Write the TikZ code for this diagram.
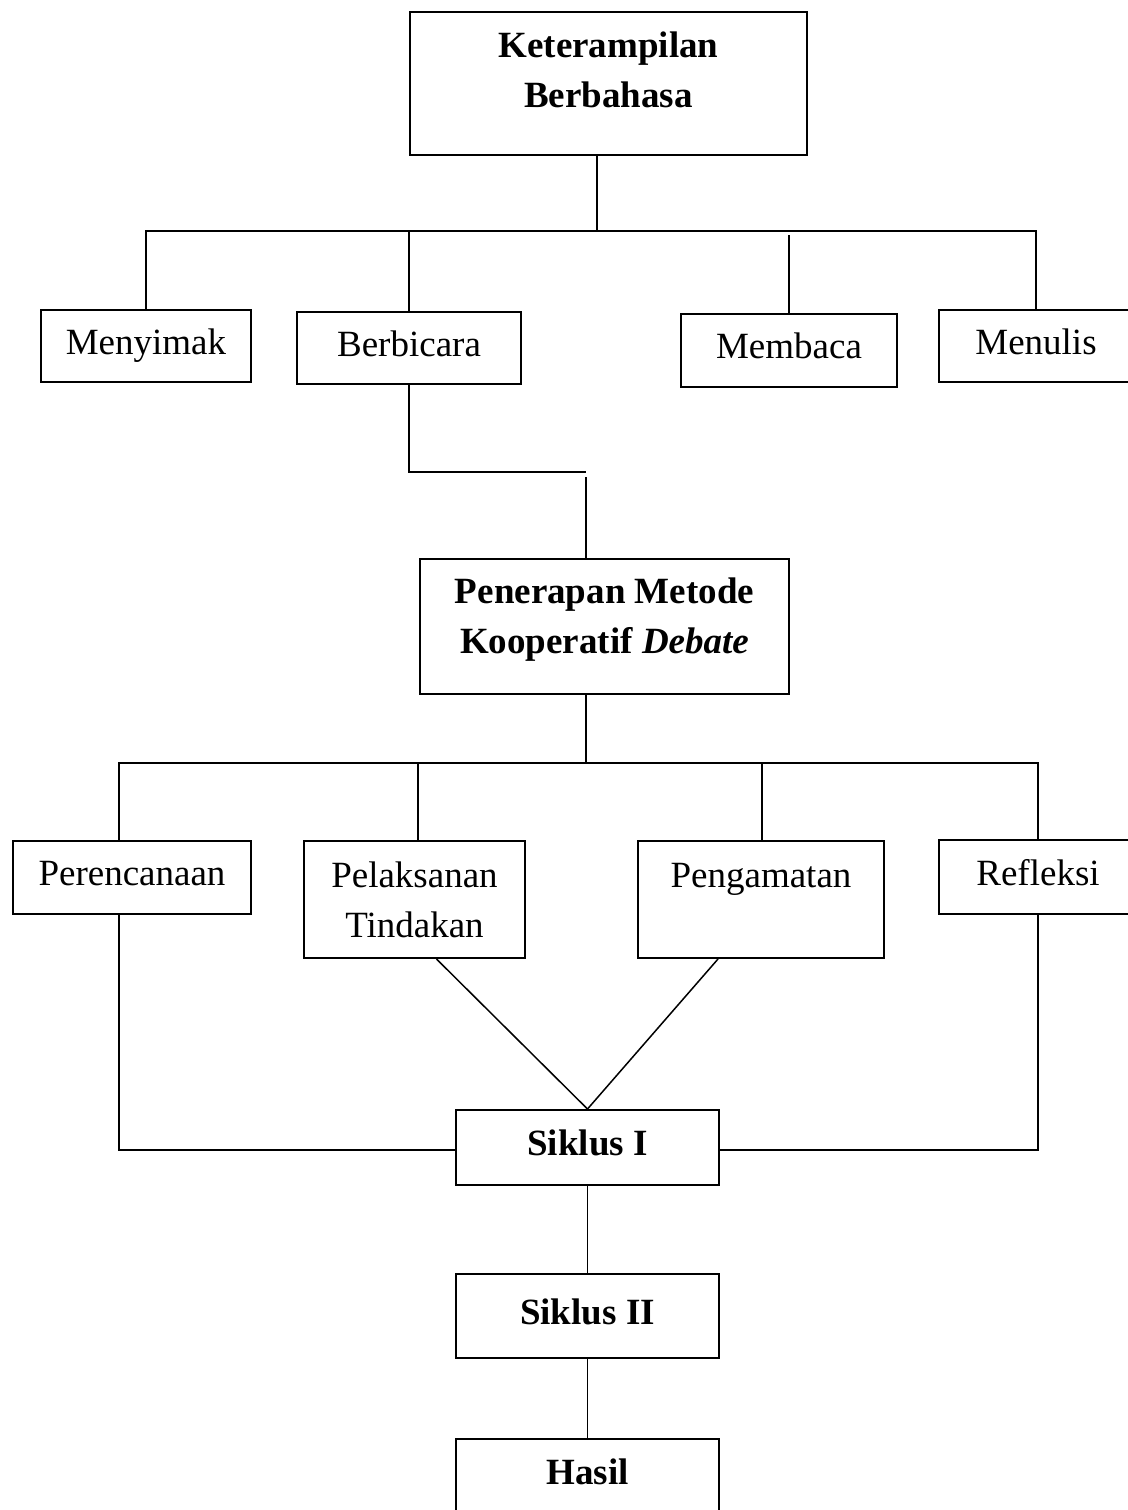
\documentclass[tikz,border=0pt]{standalone}
\usepackage{fontspec}
\setmainfont{Liberation Serif}
\begin{document}
\begin{tikzpicture}[x=0.5pt, y=-0.5pt,
        box/.style={draw, line width=1pt, anchor=north west, align=center, inner sep=0pt, font=\fontsize{18.5}{25}\selectfont},
        oneline/.style={box, text height=13pt, text depth=4.6pt},
        link/.style={line width=0.75pt}]
        \useasboundingbox (0,0) rectangle (1128,1510);

        % boxes
        \node[box, minimum width=198.5pt, minimum height=71.5pt, text depth=14pt] (ket) at (409,11) {\bfseries Keterampilan\\\bfseries Berbahasa};
        \node[oneline, minimum width=105pt, minimum height=36pt] (menyimak) at (40,309) {Menyimak};
        \node[oneline, minimum width=112pt, minimum height=36pt] (berbicara) at (296,311) {Berbicara};
        \node[oneline, minimum width=108pt, minimum height=36.5pt] (membaca) at (680,313) {Membaca};
        \node[oneline, minimum width=97pt, minimum height=36pt] (menulis) at (938,309) {Menulis};

        \node[box, minimum width=184.5pt, minimum height=67.5pt, text depth=10.5pt] (penerapan) at (419,558) {\bfseries Penerapan Metode\\\bfseries Kooperatif \textit{Debate}};

        \node[oneline, minimum width=119pt, minimum height=36.5pt] (perencanaan) at (12,840) {Perencanaan};
        \node[box, minimum width=110.5pt, minimum height=58.5pt] (pelaksanan) at (303,840) {Pelaksanan\\Tindakan};
        \node[oneline, minimum width=123pt, minimum height=58.5pt, text depth=25pt] (pengamatan) at (637,840) {Pengamatan};
        \node[oneline, minimum width=99pt, minimum height=37pt] (refleksi) at (938,839) {Refleksi};

        \node[oneline, minimum width=131.5pt, minimum height=37.5pt, font=\fontsize{18.5}{25}\selectfont\bfseries] (siklus1) at (455,1109) {Siklus I};
        \node[oneline, minimum width=131.5pt, minimum height=42pt, font=\fontsize{18.5}{25}\selectfont\bfseries] (siklus2) at (455,1273) {Siklus II};
        \node[oneline, minimum width=131.5pt, minimum height=37pt, font=\fontsize{18.5}{25}\selectfont\bfseries] (hasil) at (455,1438) {Hasil};

        % lines
        \coordinate (b1) at (597,231);
        \coordinate (b1m) at (788,235);
        \draw[link] (ket.south -| b1) -- (b1);
        \draw[link] (menyimak.north) -- (menyimak.north |- b1) -- (menulis.north |- b1) -- (menulis.north);
        \draw[link] (berbicara.north) -- (berbicara.north |- b1);
        \draw[link] (membaca.north) -- (membaca.north |- b1m);

        \coordinate (b2) at (586,472);
        \coordinate (b3) at (586,477);
        \draw[link] (berbicara.south) |- (b2);
        \draw[link] (b3) -- (b3 |- penerapan.north);

        \coordinate (b4) at (586,763);
        \coordinate (b5) at (119,763);
        \coordinate (b6) at (418,763);
        \coordinate (b7) at (762,763);
        \draw[link] (penerapan.south -| b4) -- (b4);
        \draw[link] (b5 |- perencanaan.north) -- (b5) -- (refleksi.north |- b5) -- (refleksi.north);
        \draw[link] (b6) -- (b6 |- pelaksanan.north);
        \draw[link] (b7) -- (b7 |- pengamatan.north);

        \coordinate (b8) at (586,1150);
        \draw[link] (perencanaan.south -| b5) |- (siklus1.west |- b8);
        \draw[link] (refleksi.south) |- (siklus1.east |- b8);
        \draw[link] ([xshift=11pt]pelaksanan.south) -- (siklus1.north);
        \draw[link] ([xshift=-21.5pt]pengamatan.south) -- (siklus1.north);

        \draw[link] (siklus1.south) -- (siklus2.north);
        \draw[link] (siklus2.south) -- (hasil.north);
    \end{tikzpicture}
\end{document}
